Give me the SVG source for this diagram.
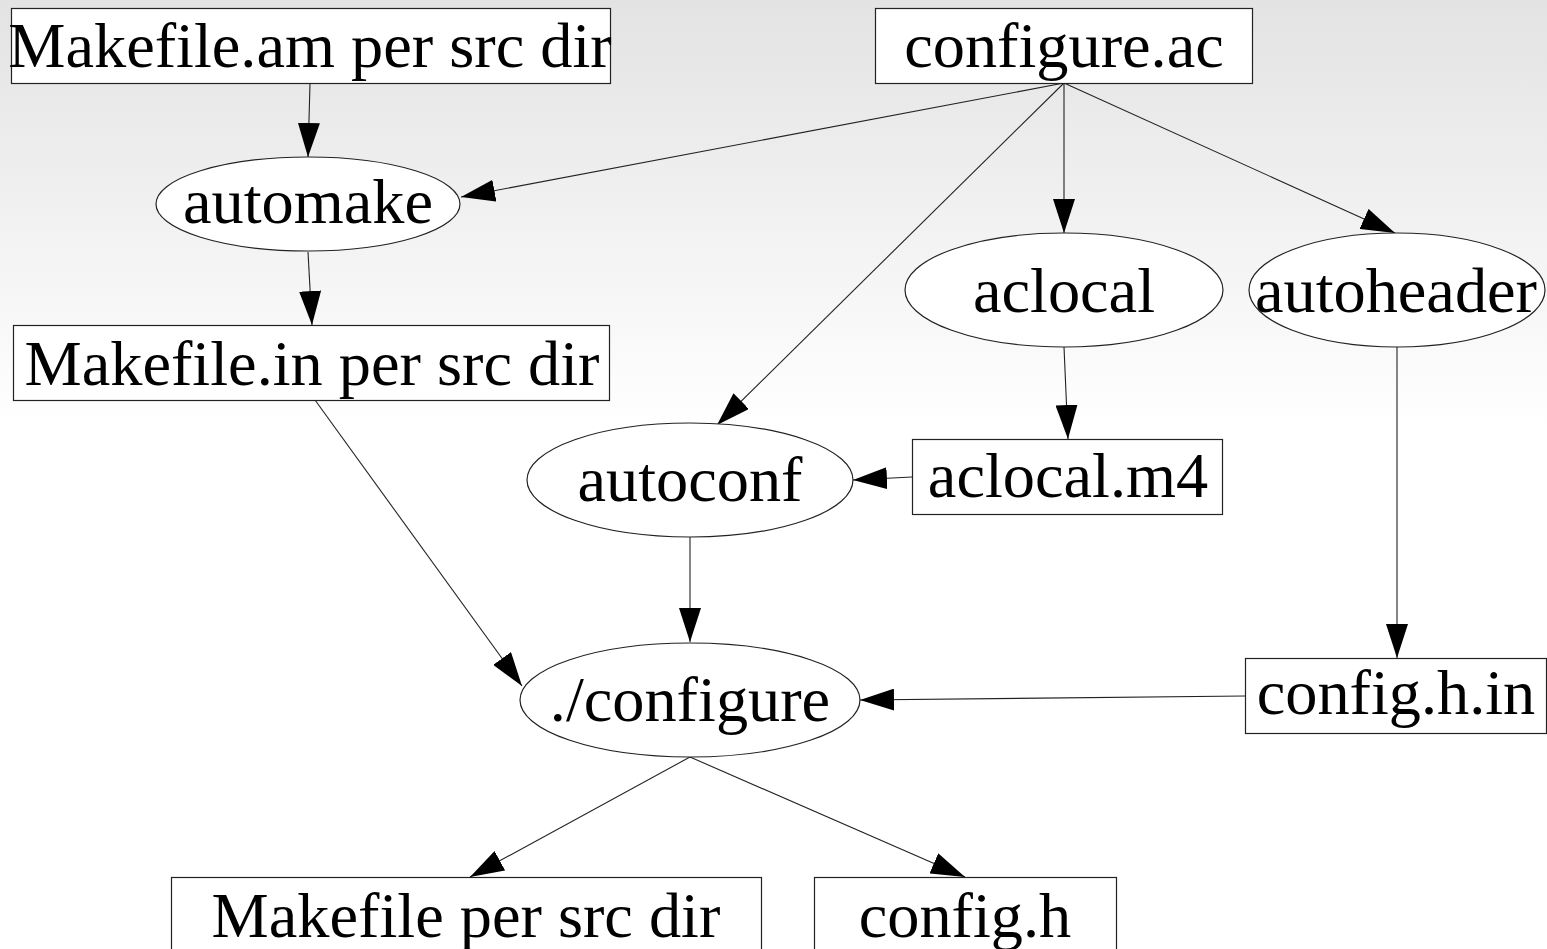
<svg xmlns="http://www.w3.org/2000/svg" width="1547" height="949" viewBox="0 0 1547 949">
<defs>
<linearGradient id="bg" x1="0" y1="0" x2="0" y2="1">
<stop offset="0" stop-color="#e3e3e3"/>
<stop offset="0.45" stop-color="#ffffff"/>
<stop offset="1" stop-color="#ffffff"/>
</linearGradient>
<marker id="ah" markerUnits="userSpaceOnUse" markerWidth="34" markerHeight="22" refX="34" refY="11" orient="auto">
<path d="M0,0 L34,11 L0,22 z" fill="#000"/>
</marker>
<style>
.box{fill:#fff;stroke:#222;stroke-width:1.2}
.ell{fill:#fff;stroke:#222;stroke-width:1.2}
.lbl{font-family:"Liberation Serif","Times New Roman",serif;font-size:64.3px;fill:#000;text-anchor:middle}
.edge{stroke:#222;stroke-width:1.1;fill:none;marker-end:url(#ah)}
</style>
</defs>
<rect x="0" y="0" width="1547" height="949" fill="url(#bg)"/>
<g id="connectors">
<line class="edge" x1="310" y1="83" x2="308" y2="157"/>
<line class="edge" x1="1064" y1="83" x2="461" y2="197"/>
<line class="edge" x1="1064" y1="83" x2="717" y2="425"/>
<line class="edge" x1="1064" y1="83" x2="1064" y2="233"/>
<line class="edge" x1="1064" y1="83" x2="1395" y2="233"/>
<line class="edge" x1="308" y1="252" x2="312" y2="325"/>
<line class="edge" x1="1064" y1="347" x2="1068" y2="439"/>
<line class="edge" x1="912" y1="477" x2="853" y2="480"/>
<line class="edge" x1="1397" y1="347" x2="1397" y2="658"/>
<line class="edge" x1="315" y1="400" x2="522" y2="686"/>
<line class="edge" x1="690" y1="537" x2="690" y2="642"/>
<line class="edge" x1="1245" y1="696" x2="860" y2="700"/>
<line class="edge" x1="690" y1="757" x2="470" y2="877"/>
<line class="edge" x1="690" y1="757" x2="965" y2="877"/>
</g>
<g id="makefile_am">
<rect class="box" x="11.5" y="8.5" width="599" height="75"/>
<text class="lbl" x="310" y="67">Makefile.am per src dir</text>
</g>
<g id="configure_ac">
<rect class="box" x="875.5" y="8.5" width="377" height="75"/>
<text class="lbl" x="1064" y="67">configure.ac</text>
</g>
<g id="automake">
<ellipse class="ell" cx="308" cy="204" rx="152" ry="47"/>
<text class="lbl" x="308" y="223">automake</text>
</g>
<g id="aclocal">
<ellipse class="ell" cx="1064" cy="290" rx="159" ry="57"/>
<text class="lbl" x="1064" y="312">aclocal</text>
</g>
<g id="autoheader">
<ellipse class="ell" cx="1397" cy="290" rx="148" ry="57"/>
<text class="lbl" x="1396" y="312">autoheader</text>
</g>
<g id="makefile_in">
<rect class="box" x="13.5" y="325.5" width="596" height="75"/>
<text class="lbl" x="312" y="385">Makefile.in per src dir</text>
</g>
<g id="autoconf">
<ellipse class="ell" cx="690" cy="480" rx="163" ry="57"/>
<text class="lbl" x="690" y="501">autoconf</text>
</g>
<g id="aclocal_m4">
<rect class="box" x="912.5" y="439.5" width="310" height="75"/>
<text class="lbl" x="1068" y="497">aclocal.m4</text>
</g>
<g id="configure">
<ellipse class="ell" cx="690" cy="700" rx="170" ry="57"/>
<text class="lbl" x="690" y="721">./configure</text>
</g>
<g id="config_h_in">
<rect class="box" x="1245.5" y="658.5" width="301" height="75"/>
<text class="lbl" x="1396" y="714">config.h.in</text>
</g>
<g id="makefile">
<rect class="box" x="171.5" y="877.5" width="590" height="75"/>
<text class="lbl" x="466" y="937">Makefile per src dir</text>
</g>
<g id="config_h">
<rect class="box" x="814.5" y="877.5" width="302" height="75"/>
<text class="lbl" x="965" y="937">config.h</text>
</g>
</svg>
